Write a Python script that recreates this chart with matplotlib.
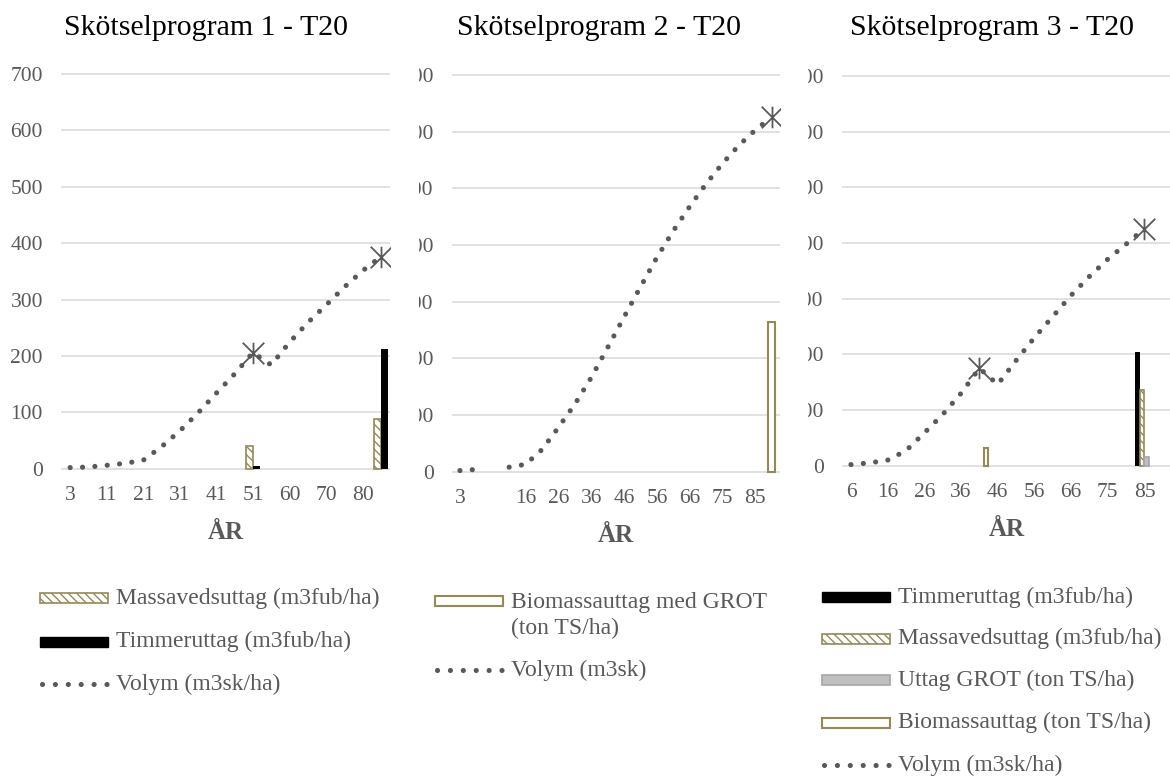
import numpy as np
import matplotlib
matplotlib.use("Agg")
import matplotlib.pyplot as plt
from matplotlib.patches import Rectangle
from matplotlib.lines import Line2D
from matplotlib.path import Path

plt.rcParams['font.family'] = ['Liberation Serif', 'DejaVu Serif']
plt.rcParams['hatch.linewidth'] = 1.0

# --- DATA ---
# Skötselprogram 1 (18 categories, every second year labelled)
ticks_1 = ["3", "11", "21", "31", "41", "51", "60", "70", "80"]
volym_1 = [2, 3, 6, 9.5, 15, 39, 67, 99, 134, 168, 206, 184, 224, 259, 290, 322, 351, 376]
massaved_1 = [None, None, None, None, None, None, None, None, None, None, 41,
              None, None, None, None, None, None, 89]
timmer_1 = [None, None, None, None, None, None, None, None, None, None, 4,
            None, None, None, None, None, None, 212]
stars_1 = [10, 17]

# Skötselprogram 2 (20 categories)
ticks_2 = ["3", "", "16", "26", "36", "46", "56", "66", "75", "85"]
volym_2 = [2, 4, None, 8, 13, 39, 78, 119, 166, 219, 273, 326, 378, 425, 468,
           508, 544, 576, 603, 626]
biomassa_2 = [None, None, None, None, None, None, None, None, None, None, None,
              None, None, None, None, None, None, None, None, 264]
stars_2 = [19]

# Skötselprogram 3 (18 categories)
ticks_3 = ["6", "16", "26", "36", "46", "56", "66", "75", "85"]
volym_3 = [2, 5, 10, 27, 59, 92, 130, 175, 146, 189, 230, 268, 306, 340, 371,
           398, 426, None]
timmer_3 = [None, None, None, None, None, None, None, None, None, None, None,
            None, None, None, None, None, 204, None]
massaved_3 = [None, None, None, None, None, None, None, None, None, None, None,
              None, None, None, None, None, 136, None]
grot_3 = [None, None, None, None, None, None, None, None, None, None, None,
          None, None, None, None, None, 16, None]
biomassa_3 = [None, None, None, None, None, None, None, 31, None, None, None,
              None, None, None, None, None, None, None]
stars_3 = [7, 16]

titles = ["Skötselprogram 1 - T20", "Skötselprogram 2 - T20", "Skötselprogram 3 - T20"]

# --- STYLE ---
W, H = 1170, 776
GREY = "#595959"
GRID = "#D9D9D9"
OLIVE = "#948A54"
GROT_FILL = "#BFBFBF"
GROT_EDGE = "#A6A6A6"
DOT_LW = 3.7
DOTS = (0, (0.01, 2.4))
TICK_FS = 15.5
LEG_FS = 17

# Excel-style star: an X with a vertical bar through it
STAR = Path([(-1, -1), (1, 1), (-1, 1), (1, -1), (0, -1), (0, 1)],
            [Path.MOVETO, Path.LINETO, Path.MOVETO, Path.LINETO, Path.MOVETO, Path.LINETO])


def arr(values):
    return np.array(values, dtype=float)


def fx(px):
    return px / W


def fy(py):
    return 1 - py / H


def place(left, right, zero, top, lo=-8, hi=712):
    # axes box in figure fractions, given pixel rows of the 0 and 700 gridlines
    per = (zero - top) / 700
    y_bot = zero - lo * per
    y_top = zero - hi * per
    return [left / W, 1 - y_bot / H, (right - left) / W, (y_bot - y_top) / H]


def setup(ax, n, ticks):
    ax.set_xlim(-0.5, n - 0.5)
    ax.set_ylim(-8, 712)
    ax.set_yticks(range(0, 701, 100))
    ax.set_xticks(range(0, n, 2), ticks)
    ax.tick_params(length=0, labelsize=TICK_FS, labelcolor=GREY)
    ax.tick_params(axis='y', pad=13)
    ax.tick_params(axis='x', pad=9)
    ax.grid(axis='y', color=GRID, lw=1.1)
    ax.set_axisbelow(True)
    for s in ax.spines.values():
        s.set_visible(False)
    ax.set_xlabel("ÅR", fontsize=18, fontweight='bold', color=GREY, labelpad=12)


def volume(ax, vals, stars):
    v = arr(vals)
    x = np.arange(len(v))
    ax.plot(x, v, color=GREY, lw=DOT_LW, linestyle=DOTS, dash_capstyle='round', zorder=3)
    ax.plot(stars, v[stars], linestyle='none', marker=STAR, ms=15.5,
            mec=GREY, mfc='none', mew=1.3, zorder=4)


fig = plt.figure(figsize=(W / 100, H / 100), dpi=100)

ax1 = fig.add_axes(place(61, 390, 468.7, 74))
ax2 = fig.add_axes(place(451.7, 780, 471.7, 75))
ax3 = fig.add_axes(place(841.8, 1172, 465.7, 76))
ax1.set_zorder(3)
ax2.set_zorder(2)
ax3.set_zorder(1)

# panel 1
n1 = len(volym_1)
x1 = np.arange(n1)
w1 = 0.365
setup(ax1, n1, ticks_1)
ax1.bar(x1 - w1 / 2, arr(massaved_1), w1, facecolor='white', edgecolor=OLIVE,
        hatch='\\\\\\\\', lw=1.2, zorder=2)
ax1.bar(x1 + w1 / 2, arr(timmer_1), w1, color='black', zorder=2)
volume(ax1, volym_1, stars_1)

# panel 2
n2 = len(volym_2)
x2 = np.arange(n2)
setup(ax2, n2, ticks_2)
ax2.bar(x2, arr(biomassa_2), 0.41, facecolor='white', edgecolor=OLIVE, lw=1.5, zorder=2)
volume(ax2, volym_2, stars_2)

# panel 3
n3 = len(volym_3)
x3 = np.arange(n3)
w3 = 0.245
setup(ax3, n3, ticks_3)
ax3.bar(x3 - 1.5 * w3, arr(timmer_3), w3, color='black', zorder=2)
ax3.bar(x3 - 0.5 * w3, arr(massaved_3), w3, facecolor='white', edgecolor=OLIVE,
        hatch='\\\\\\\\', lw=1.2, zorder=2)
ax3.bar(x3 + 0.5 * w3, arr(grot_3), w3, facecolor=GROT_FILL, edgecolor=GROT_EDGE, lw=1.2, zorder=2)
ax3.bar(x3 + 1.5 * w3, arr(biomassa_3), w3, facecolor='white', edgecolor=OLIVE, lw=1.5, zorder=2)
volume(ax3, volym_3, stars_3)

# each chart area is opaque and sits on top of the one to its right
fig.add_artist(Rectangle((0, 0), fx(419), 1, transform=fig.transFigure,
                         facecolor='white', edgecolor='none', zorder=2.5))
fig.add_artist(Rectangle((fx(419), 0), fx(808 - 419), 1, transform=fig.transFigure,
                         facecolor='white', edgecolor='none', zorder=1.5))

# titles
for cx, t in zip([206, 599, 992], titles):
    fig.text(fx(cx), fy(28), t, ha='center', va='center', fontsize=21.5, color='black')


# legends below each chart
def key(x0, y, kind, label, text_y=None):
    kw = dict(transform=fig.transFigure, zorder=5)
    if kind == 'dots':
        fig.add_artist(Line2D([fx(x0 + 2), fx(x0 + 67)], [fy(y), fy(y)], color=GREY,
                              lw=DOT_LW, linestyle=(0, (0.01, 2.5)), dash_capstyle='round', **kw))
    else:
        style = {
            'massaved': dict(facecolor='white', edgecolor=OLIVE, hatch='\\\\\\\\', lw=1.2),
            'timmer': dict(facecolor='black', edgecolor='black', lw=1.0),
            'grot': dict(facecolor=GROT_FILL, edgecolor=GROT_EDGE, lw=1.2),
            'biomassa': dict(facecolor='white', edgecolor=OLIVE, lw=1.5),
        }[kind]
        fig.add_artist(Rectangle((fx(x0), fy(y + 5)), fx(68), 10 / H, **style, **kw))
    ty = y if text_y is None else text_y
    fig.text(fx(x0 + 76), fy(ty), label, ha='left', va='center', fontsize=LEG_FS,
             color=GREY, linespacing=1.3, zorder=5)


key(40, 598, 'massaved', "Massavedsuttag (m3fub/ha)")
key(40, 641.5, 'timmer', "Timmeruttag (m3fub/ha)")
key(40, 684, 'dots', "Volym (m3sk/ha)")

key(435, 601, 'biomassa', "Biomassauttag med GROT\n(ton TS/ha)", text_y=616)
key(435, 670, 'dots', "Volym (m3sk)")

key(822, 597, 'timmer', "Timmeruttag (m3fub/ha)")
key(822, 638.5, 'massaved', "Massavedsuttag (m3fub/ha)")
key(822, 680, 'grot', "Uttag GROT (ton TS/ha)")
key(822, 722.5, 'biomassa', "Biomassauttag (ton TS/ha)")
key(822, 765, 'dots', "Volym (m3sk/ha)")

fig.savefig("out.png", dpi=100)
